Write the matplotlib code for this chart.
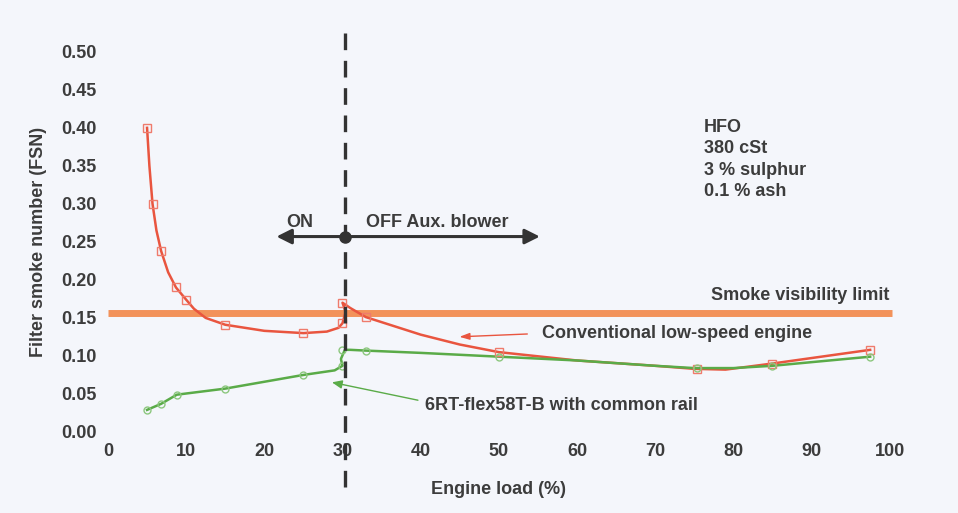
import matplotlib.pyplot as plt

plt.rcParams['font.family'] = ['Liberation Sans', 'DejaVu Sans']

# Conventional low-speed engine (curve)
conv_x = [5, 5.3, 5.7, 6.2, 6.8, 7.7, 8.7, 10, 11, 12.5, 15, 20, 25, 28, 29.5, 30,
          30.4, 30.0, 31, 33, 40, 45, 50, 60, 70, 75, 79, 85, 97.5]
conv_y = [0.40, 0.35, 0.30, 0.265, 0.238, 0.21, 0.19, 0.174, 0.162, 0.150, 0.141, 0.133,
          0.130, 0.132, 0.137, 0.143, 0.158, 0.170, 0.163, 0.151, 0.128, 0.115, 0.105,
          0.094, 0.087, 0.083, 0.082, 0.090, 0.108]
conv_mx = [5, 5.7, 6.8, 8.7, 10, 15, 25, 30, 30, 33, 50, 75.3, 85, 97.5]
conv_my = [0.40, 0.30, 0.238, 0.19, 0.174, 0.141, 0.130, 0.143, 0.170, 0.151, 0.105, 0.083, 0.090, 0.108]

# 6RT-flex58T-B with common rail
cr_x = [5, 6.8, 8.8, 15, 20, 25, 29, 30, 29.8, 30.3, 31, 33, 40, 50, 60, 70, 75, 80, 85, 97.5]
cr_y = [0.029, 0.037, 0.049, 0.057, 0.066, 0.075, 0.081, 0.087, 0.096, 0.108, 0.108, 0.107,
        0.104, 0.099, 0.094, 0.087, 0.084, 0.084, 0.087, 0.099]
cr_mx = [5, 6.8, 8.8, 15, 25, 30, 30, 33, 50, 75.3, 85, 97.5]
cr_my = [0.029, 0.037, 0.049, 0.057, 0.075, 0.087, 0.108, 0.107, 0.099, 0.084, 0.087, 0.099]

smoke_limit = 0.157
switch_load = 30.3
x_ticks = [0, 10, 20, 30, 40, 50, 60, 70, 80, 90, 100]
y_ticks = [0.00, 0.05, 0.10, 0.15, 0.20, 0.25, 0.30, 0.35, 0.40, 0.45, 0.50]
fuel_notes = ['HFO', '380 cSt', '3 % sulphur', '0.1 % ash']

txt = '#3c3c3c'
red = '#e9553f'
green = '#5aab48'
orange = '#f2925a'
fs = 13

fig = plt.figure(figsize=(9.58, 5.13), dpi=100, facecolor='#f4f6fb')
ax = fig.add_axes([0.1127, 0.158, 0.816, 0.741])
ax.set_facecolor('#f4f6fb')
ax.set_xlim(0, 100)
ax.set_ylim(0, 0.5)
for s in ax.spines.values():
    s.set_visible(False)
ax.set_xticks(x_ticks)
ax.set_yticks(y_ticks)
ax.set_yticklabels(['%.2f' % v for v in y_ticks])
ax.tick_params(length=0, labelsize=fs, labelcolor=txt, pad=8)
for lab in ax.get_xticklabels() + ax.get_yticklabels():
    lab.set_fontweight('bold')
ax.set_xlabel('Engine load (%)', fontsize=fs, fontweight='bold', color=txt, labelpad=15)
ax.set_ylabel('Filter smoke number (FSN)', fontsize=fs, fontweight='bold', color=txt, labelpad=10)

# smoke limit band
ax.plot([0, 100.3], [smoke_limit, smoke_limit], color=orange, lw=5, solid_capstyle='butt',
        clip_on=False, zorder=1)
ax.text(100, 0.179, 'Smoke visibility limit', ha='right', va='center', fontsize=fs,
        fontweight='bold', color=txt)

# curves
ax.plot(conv_x, conv_y, color=red, lw=1.8, zorder=3)
ax.plot(conv_mx, conv_my, ls='none', marker='s', ms=6, mfc='none', mec='#ef7b6c', mew=1, zorder=4)
ax.plot(cr_x, cr_y, color=green, lw=1.8, zorder=3)
ax.plot(cr_mx, cr_my, ls='none', marker='o', ms=5, mfc='none', mec='#8cc77e', mew=1, zorder=4)

# aux blower switch
ax.plot([switch_load, switch_load], [-0.072, 0.53], color='#333333', lw=2.4,
        ls=(0, (5, 3.2)), clip_on=False, zorder=5)
ax.annotate('', xy=(21.2, 0.257), xytext=(switch_load, 0.257),
            arrowprops=dict(arrowstyle='-|>,head_length=0.9,head_width=0.45', color='#333333', lw=2.2))
ax.annotate('', xy=(55.6, 0.257), xytext=(switch_load, 0.257),
            arrowprops=dict(arrowstyle='-|>,head_length=0.9,head_width=0.45', color='#333333', lw=2.2))
ax.plot([switch_load], [0.257], 'o', color='#333333', ms=8, zorder=6)
ax.text(24.5, 0.276, 'ON', ha='center', va='center', fontsize=fs, fontweight='bold', color=txt)
ax.text(33.0, 0.276, 'OFF Aux. blower', ha='left', va='center', fontsize=fs, fontweight='bold', color=txt)

# curve labels
ax.annotate('', xy=(44.6, 0.125), xytext=(54.0, 0.129),
            arrowprops=dict(arrowstyle='-|>,head_length=0.6,head_width=0.2', color=red, lw=1))
ax.text(55.5, 0.130, 'Conventional low-speed engine', ha='left', va='center', fontsize=fs,
        fontweight='bold', color=txt)
ax.annotate('', xy=(28.3, 0.066), xytext=(40.0, 0.041),
            arrowprops=dict(arrowstyle='-|>,head_length=0.6,head_width=0.25', color=green, lw=1))
ax.text(40.6, 0.035, '6RT-flex58T-B with common rail', ha='left', va='center', fontsize=fs,
        fontweight='bold', color=txt)

# fuel notes
for i, note in enumerate(fuel_notes):
    ax.text(76.2, 0.401 - i * 0.0283, note, ha='left', va='center', fontsize=fs,
            fontweight='bold', color=txt)

fig.savefig('out.png', dpi=100, facecolor=fig.get_facecolor())
